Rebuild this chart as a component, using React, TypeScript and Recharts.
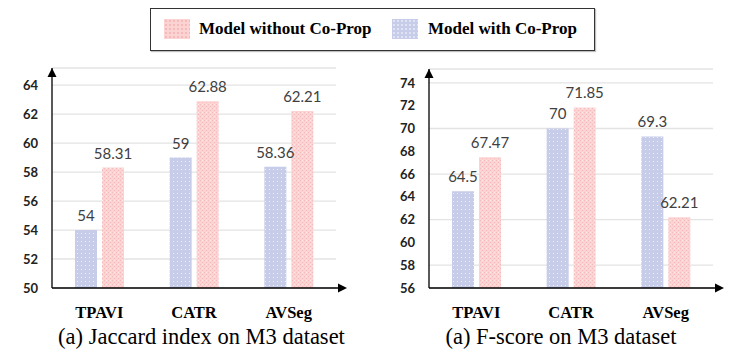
import { Bar, BarChart, CartesianGrid, LabelList, ReferenceLine, XAxis, YAxis } from "recharts";

const methods = ["TPAVI", "CATR", "AVSeg"];
const jaccardWith = [54, 59, 58.36];
const jaccardWithout = [58.31, 62.88, 62.21];
const fscoreWith = [64.5, 70, 69.3];
const fscoreWithout = [67.47, 71.85, 62.21];
const jaccardTicks = [50, 52, 54, 56, 58, 60, 62, 64];
const fscoreTicks = [56, 58, 60, 62, 64, 66, 68, 70, 72, 74];

const withLabel = "Model with Co-Prop";
const withoutLabel = "Model without Co-Prop";

const sansFont = "Lato, 'Open Sans', sans-serif";
const serifFont = "'Liberation Serif', 'DejaVu Serif', serif";

function ArrowAxes(props: any) {
  // arrow tip on top of the y axis
  const { x1, y1 } = props;
  return <path d={`M${x1} ${y1} l-4.5 9 l9 0 z`} fill="#000" />;
}

function XArrow(props: any) {
  const { x1, x2, y1 } = props;
  return (
    <g>
      <line x1={x1} y1={y1} x2={x2 + 6} y2={y1} stroke="#000" strokeWidth={1.3} />
      <path d={`M${x2 + 11} ${y1} l-9 -4.5 l0 9 z`} fill="#000" />
    </g>
  );
}

function MethodTick(props: any) {
  const { x, y, payload } = props;
  return (
    <text
      x={x}
      y={y + 28}
      textAnchor="middle"
      fill="#000"
      style={{ fontFamily: serifFont, fontSize: 16.5, fontWeight: 700 }}
    >
      {payload.value}
    </text>
  );
}

function Patterns({ id }: { id: string }) {
  return (
    <defs>
      <pattern id={`blue-${id}`} width="4" height="4" patternUnits="userSpaceOnUse">
        <rect width="4" height="4" fill="#c7cce8" />
        <rect x="1" y="1" width="1" height="1" fill="#eef0fa" />
      </pattern>
      <pattern id={`pink-${id}`} width="4" height="4" patternUnits="userSpaceOnUse">
        <rect width="4" height="4" fill="#fbd3d3" />
        <rect x="0" y="0" width="1" height="1" fill="#f6b9b9" />
        <rect x="2" y="2" width="1" height="1" fill="#f6b9b9" />
        <rect x="2" y="0" width="1" height="1" fill="#fde8e8" />
      </pattern>
    </defs>
  );
}

type PanelProps = {
  id: string;
  withValues: number[];
  withoutValues: number[];
  ticks: number[];
  yMax: number;
  left: number;
  marginLeft: number;
  marginRight: number;
  marginTop: number;
};

function Panel({ id, withValues, withoutValues, ticks, yMax, left, marginLeft, marginRight, marginTop }: PanelProps) {
  const data = methods.map((name, i) => ({
    name,
    withCoProp: withValues[i],
    withoutCoProp: withoutValues[i],
  }));
  const yMin = ticks[0];
  return (
    <div style={{ position: "absolute", left, top: 60 }}>
      <BarChart
        width={370}
        height={262}
        data={data}
        margin={{ top: marginTop, right: marginRight, left: 0, bottom: 2 }}
        barSize={22}
        barGap={5}
      >
        <Patterns id={id} />
        <CartesianGrid vertical={false} stroke="#e3e3e3" strokeWidth={1.3} />
        <XAxis
          dataKey="name"
          axisLine={false}
          tickLine={false}
          tickSize={0}
          height={32}
          tick={<MethodTick />}
        />
        <YAxis
          domain={[yMin, yMax]}
          ticks={ticks}
          allowDataOverflow
          width={marginLeft}
          axisLine={{ stroke: "#000", strokeWidth: 1.3 }}
          tickLine={false}
          tickSize={0}
          tickMargin={14}
          tick={{ fill: "#222", fontSize: 13, fontWeight: 700, fontFamily: sansFont }}
        />
        <ReferenceLine y={yMax} stroke="none" shape={ArrowAxes} ifOverflow="visible" />
        <ReferenceLine y={yMin} stroke="none" shape={XArrow} ifOverflow="visible" />
        <Bar dataKey="withCoProp" name={withLabel} fill={`url(#blue-${id})`} isAnimationActive={false}>
          <LabelList
            dataKey="withCoProp"
            position="top"
            offset={9}
            style={{ fill: "#404040", fontSize: 15, fontFamily: sansFont }}
          />
        </Bar>
        <Bar dataKey="withoutCoProp" name={withoutLabel} fill={`url(#pink-${id})`} isAnimationActive={false}>
          <LabelList
            dataKey="withoutCoProp"
            position="top"
            offset={9}
            style={{ fill: "#404040", fontSize: 15, fontFamily: sansFont }}
          />
        </Bar>
      </BarChart>
    </div>
  );
}

const swatchBlue =
  "radial-gradient(circle, #eef0fa 0.6px, transparent 0.9px) 0 0 / 4px 4px, #c7cce8";
const swatchPink =
  "radial-gradient(circle, #f6b9b9 0.7px, transparent 1px) 0 0 / 4px 4px, #fbd3d3";

const captionStyle = {
  position: "absolute" as const,
  top: 324,
  textAlign: "center" as const,
  fontFamily: serifFont,
  fontSize: 22.5,
  lineHeight: "26px",
  color: "#000",
  whiteSpace: "nowrap" as const,
};

export default function App() {
  return (
    <div
      style={{
        position: "absolute",
        left: 0,
        top: 0,
        width: 746,
        height: 353,
        background: "#fff",
        overflow: "hidden",
      }}
    >
      <Panel
        id="jac"
        withValues={jaccardWith}
        withoutValues={jaccardWithout}
        ticks={jaccardTicks}
        yMax={65.18}
        left={0}
        marginLeft={52}
        marginRight={34}
        marginTop={8}
      />
      <Panel
        id="fs"
        withValues={fscoreWith}
        withoutValues={fscoreWithout}
        ticks={fscoreTicks}
        yMax={75.22}
        left={376}
        marginLeft={53}
        marginRight={33}
        marginTop={9}
      />

      <div
        style={{
          position: "absolute",
          left: 150,
          top: 8,
          width: 443,
          height: 41,
          border: "1.5px solid #333",
          boxShadow: "1px 1px 1px rgba(0,0,0,0.25)",
          fontFamily: serifFont,
          fontWeight: 700,
          fontSize: 17,
          color: "#000",
        }}
      >
        <div style={{ position: "absolute", left: 13, top: 10, width: 26, height: 20, background: swatchPink }} />
        <div style={{ position: "absolute", left: 48, top: 10, lineHeight: "20px", whiteSpace: "nowrap" }}>
          {withoutLabel}
        </div>
        <div style={{ position: "absolute", left: 241, top: 10, width: 26, height: 20, background: swatchBlue }} />
        <div style={{ position: "absolute", left: 277, top: 10, lineHeight: "20px", whiteSpace: "nowrap" }}>
          {withLabel}
        </div>
      </div>

      <div style={{ ...captionStyle, left: 0, width: 403 }}>(a) Jaccard index on M3 dataset</div>
      <div style={{ ...captionStyle, left: 376, width: 370 }}>(a) F-score on M3 dataset</div>
    </div>
  );
}
